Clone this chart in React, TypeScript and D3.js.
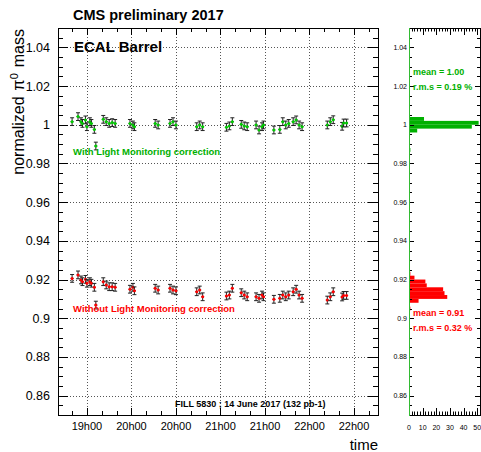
import React, { useRef, useEffect } from "react";
import * as d3 from "d3";

// measurement times (UTC) shared by both series
const times = [
  "19:20", "19:24", "19:26", "19:27", "19:29", "19:30", "19:32", "19:33", "19:35", "19:36",
  "19:41", "19:43", "19:45", "19:47", "19:49", "19:59", "20:01", "20:02", "20:16", "20:18",
  "20:26", "20:28", "20:30", "20:44", "20:46", "20:48", "21:04", "21:06", "21:08", "21:14",
  "21:16", "21:18", "21:24", "21:26", "21:28", "21:29", "21:36", "21:40", "21:42", "21:44",
  "21:46", "21:49", "21:51", "21:53", "21:55", "22:12", "22:14", "22:16", "22:22", "22:23",
  "22:25",
];

// normalized pi0 mass, with light monitoring correction
const massWithLM = [
  1.0016, 1.0042, 1.0016, 1.0007, 1.0025, 0.999, 1.0016, 1.0007, 0.9976, 0.989,
  1.0028, 1.0016, 1.0007, 1.0011, 1.0007, 1.0007, 0.9999, 0.999, 1.0007, 0.9999,
  1.0007, 1.0016, 0.9999, 0.999, 0.9999, 0.999, 0.9987, 0.9994, 1.0016, 1.0002,
  0.9994, 0.999, 0.9999, 0.9973, 0.999, 0.9999, 0.9973, 0.9976, 1.0016, 0.9999,
  1.0007, 1.0016, 1.0025, 0.9999, 0.999, 0.9999, 1.0016, 1.0026, 0.9992, 1.0009,
  1.0009,
];

// normalized pi0 mass, without light monitoring correction
const massWithoutLM = [
  0.9206, 0.9224, 0.9198, 0.9189, 0.9201, 0.9181, 0.9189, 0.9181, 0.916, 0.9068,
  0.9189, 0.9172, 0.9163, 0.9163, 0.916, 0.915, 0.916, 0.9142, 0.9155, 0.9146,
  0.9155, 0.9146, 0.9142, 0.9137, 0.9146, 0.9111, 0.9115, 0.912, 0.9155, 0.9132,
  0.912, 0.9111, 0.9111, 0.9103, 0.912, 0.9111, 0.9098, 0.9103, 0.912, 0.9111,
  0.912, 0.9137, 0.915, 0.912, 0.9103, 0.9094, 0.9111, 0.9137, 0.911, 0.9118,
  0.9118,
];

// projections (lower bin edge, entries)
const histBinsWithLM = [0.986, 0.996, 0.998, 1.0, 1.002];
const histCountsWithLM = [1, 6, 46, 51, 11];
const histBinsWithoutLM = [0.904, 0.908, 0.91, 0.912, 0.914, 0.916, 0.918, 0.92, 0.922];
const histCountsWithoutLM = [1, 7, 28, 26, 25, 13, 12, 4, 1];
const binWidth = 0.002;

const timeDomain = ["19:10:30", "22:46:10"];
const massDomain = [0.85, 1.05];
const countDomain = [0, 52];
const countTicks = [0, 10, 20, 30, 40, 50];
const massErr = 0.002;

const W = 481;
const H = 452;
const GREEN = "#00b000";
const RED = "#ff0000";
const FONT = "'Liberation Sans', Arial, Helvetica, sans-serif";

const App = () => {
  const ref = useRef<SVGSVGElement>(null);

  useEffect(() => {
    const svg = d3.select(ref.current);
    svg.selectAll("*").remove();

    const parse = d3.utcParse("%H:%M:%S");
    const pt = (s: string) => parse(s.length === 5 ? s + ":00" : s) as Date;
    const c = (v: number) => Math.round(v) + 0.5;

    const L = 58, R = 378, T = 28, B = 415;
    const x = d3.scaleUtc().domain(timeDomain.map(pt)).range([L, R]);
    const y = d3.scaleLinear().domain(massDomain).range([B, T]);
    const xh = d3.scaleLinear().domain(countDomain).range([409, 480]);

    svg.append("rect").attr("width", W).attr("height", H).attr("fill", "#fff");

    const majorT = x.ticks(d3.utcMinute.every(30) as any);
    const minorT = x.ticks(d3.utcMinute.every(10) as any);
    const yMinor = d3.range(170, 211).map((i) => i * 0.005);
    const yMajor = d3.range(43, 53).map((i) => i * 0.02);

    // grid
    const grid = svg
      .append("g")
      .attr("stroke", "#555")
      .attr("stroke-width", 1)
      .attr("stroke-dasharray", "1,2");
    majorT.forEach((t) =>
      grid.append("line").attr("x1", c(x(t))).attr("x2", c(x(t))).attr("y1", T).attr("y2", B)
    );
    yMajor.forEach((v) =>
      grid.append("line").attr("x1", L).attr("x2", R).attr("y1", c(y(v))).attr("y2", c(y(v)))
    );

    // frame + ticks of main pad
    const ax = svg.append("g").attr("stroke", "#000").attr("stroke-width", 1).attr("fill", "none");
    ax.append("rect").attr("x", L + 0.5).attr("y", T + 0.5).attr("width", R - L).attr("height", B - T);
    yMinor.forEach((v, i) => {
      const len = i % 4 === 2 ? 10 : 5;
      const yy = c(y(v));
      ax.append("line").attr("x1", L).attr("x2", L + len).attr("y1", yy).attr("y2", yy);
      ax.append("line").attr("x1", R).attr("x2", R - len).attr("y1", yy).attr("y2", yy);
    });
    minorT.forEach((t) => {
      const major = t.getUTCMinutes() % 30 === 0;
      const len = major ? 7 : 4;
      const xx = c(x(t));
      ax.append("line").attr("x1", xx).attr("x2", xx).attr("y1", B).attr("y2", B - len);
      ax.append("line").attr("x1", xx).attr("x2", xx).attr("y1", T).attr("y2", T + len);
    });

    // axis labels
    const fmtY = (v: number) => String(+v.toFixed(2));
    yMajor.forEach((v) =>
      svg
        .append("text")
        .attr("x", 50)
        .attr("y", y(v))
        .attr("dy", "0.36em")
        .attr("text-anchor", "end")
        .attr("font-family", FONT)
        .attr("font-size", 12.5)
        .text(fmtY(v))
    );
    const fmtT = d3.utcFormat("%Hh00");
    majorT.forEach((t) =>
      svg
        .append("text")
        .attr("x", x(t))
        .attr("y", 430)
        .attr("text-anchor", "middle")
        .attr("font-family", FONT)
        .attr("font-size", 11)
        .text(fmtT(t))
    );

    // titles
    svg
      .append("text")
      .attr("x", R)
      .attr("y", 450)
      .attr("text-anchor", "end")
      .attr("font-family", FONT)
      .attr("font-size", 15)
      .text("time");
    const yt = svg
      .append("text")
      .attr("transform", `translate(24,${T + 1}) rotate(-90)`)
      .attr("text-anchor", "end")
      .attr("font-family", FONT)
      .attr("font-size", 16);
    yt.append("tspan").text("normalized");
    yt.append("tspan").attr("dx", 6).text("π");
    yt.append("tspan").attr("dy", -6).attr("font-size", 11).text("0");
    yt.append("tspan").attr("dy", 6).attr("dx", 6).text("mass");

    svg
      .append("text")
      .attr("x", 73)
      .attr("y", 20)
      .attr("font-family", FONT)
      .attr("font-weight", "bold")
      .attr("font-size", 14.5)
      .text("CMS preliminary 2017");
    svg
      .append("text")
      .attr("x", 74)
      .attr("y", 52)
      .attr("font-family", FONT)
      .attr("font-weight", "bold")
      .attr("font-size", 15)
      .text("ECAL Barrel");

    // data points
    const pts = svg.append("g");
    const drawSeries = (vals: number[], col: string) => {
      vals.forEach((v, i) => {
        const px = x(pt(times[i]));
        const y0 = y(v - massErr);
        const y1 = y(v + massErr);
        const g = pts.append("g").attr("stroke", "#222").attr("stroke-width", 1);
        g.append("line").attr("x1", px).attr("x2", px).attr("y1", y0).attr("y2", y1);
        g.append("line").attr("x1", px - 2).attr("x2", px + 2).attr("y1", y0).attr("y2", y0);
        g.append("line").attr("x1", px - 2).attr("x2", px + 2).attr("y1", y1).attr("y2", y1);
        g.append("line").attr("x1", px - 1.5).attr("x2", px + 1.5).attr("y1", y(v)).attr("y2", y(v));
        pts.append("circle").attr("cx", px).attr("cy", y(v)).attr("r", 1.5).attr("fill", col);
      });
    };
    drawSeries(massWithLM, "#00cc00");
    drawSeries(massWithoutLM, RED);

    svg
      .append("text")
      .attr("x", 73)
      .attr("y", 155)
      .attr("font-family", FONT)
      .attr("font-weight", "bold")
      .attr("font-size", 9.5)
      .attr("fill", GREEN)
      .text("With Light Monitoring correction");
    svg
      .append("text")
      .attr("x", 73)
      .attr("y", 312)
      .attr("font-family", FONT)
      .attr("font-weight", "bold")
      .attr("font-size", 9.5)
      .attr("fill", RED)
      .text("Without Light Monitoring correction");
    svg
      .append("text")
      .attr("x", 175)
      .attr("y", 407)
      .attr("font-family", FONT)
      .attr("font-weight", "bold")
      .attr("font-size", 9)
      .text("FILL 5830 ; 14 June 2017 (132 pb-1)");

    // side pad: projections
    const hist = (bins: number[], counts: number[], col: string) =>
      bins.forEach((lo, i) =>
        svg
          .append("rect")
          .attr("x", xh(0))
          .attr("y", y(lo + binWidth))
          .attr("width", xh(counts[i]) - xh(0))
          .attr("height", y(lo) - y(lo + binWidth))
          .attr("fill", col)
      );
    hist(histBinsWithLM, histCountsWithLM, GREEN);
    hist(histBinsWithoutLM, histCountsWithoutLM, RED);

    const hx0 = 409, hx1 = 480;
    const sp = svg.append("g").attr("stroke", "#000").attr("stroke-width", 1);
    sp.append("line").attr("x1", hx0).attr("x2", hx1 + 1).attr("y1", T + 0.5).attr("y2", T + 0.5);
    sp.append("line").attr("x1", hx0).attr("x2", hx1 + 1).attr("y1", B + 0.5).attr("y2", B + 0.5);
    sp.append("line").attr("x1", hx1 + 0.5).attr("x2", hx1 + 0.5).attr("y1", T).attr("y2", B);
    yMinor.forEach((v, i) => {
      const len = i % 4 === 2 ? 5 : 3;
      const yy = c(y(v));
      sp.append("line").attr("x1", hx0).attr("x2", hx0 + len).attr("y1", yy).attr("y2", yy);
      sp.append("line").attr("x1", hx1).attr("x2", hx1 - len).attr("y1", yy).attr("y2", yy);
    });
    d3.range(0, 53, 2).forEach((k) => {
      const len = k % 10 === 0 ? 7 : 3.5;
      const xx = c(xh(k));
      sp.append("line").attr("x1", xx).attr("x2", xx).attr("y1", B).attr("y2", B - len);
      sp.append("line").attr("x1", xx).attr("x2", xx).attr("y1", T).attr("y2", T + len);
    });
    svg
      .append("line")
      .attr("x1", hx0 + 0.5)
      .attr("x2", hx0 + 0.5)
      .attr("y1", T)
      .attr("y2", B + 1)
      .attr("stroke", "#33bb33")
      .attr("stroke-width", 1);

    yMajor.forEach((v) =>
      svg
        .append("text")
        .attr("x", 407)
        .attr("y", y(v))
        .attr("dy", "0.36em")
        .attr("text-anchor", "end")
        .attr("font-family", FONT)
        .attr("font-size", 7)
        .text(fmtY(v))
    );
    countTicks.forEach((k) =>
      svg
        .append("text")
        .attr("x", xh(k))
        .attr("y", 429.5)
        .attr("text-anchor", "middle")
        .attr("font-family", FONT)
        .attr("font-size", 7)
        .text(String(k))
    );

    const stats = (lines: string[], y0: number, col: string) =>
      lines.forEach((s, i) =>
        svg
          .append("text")
          .attr("x", 413)
          .attr("y", y0 + i * 15)
          .attr("font-family", FONT)
          .attr("font-weight", "bold")
          .attr("font-size", 9)
          .attr("fill", col)
          .text(s)
      );
    stats(["mean = 1.00", "r.m.s = 0.19 %"], 75, GREEN);
    stats(["mean = 0.91", "r.m.s = 0.32 %"], 316, RED);

    return () => {
      d3.select(ref.current).selectAll("*").remove();
    };
  }, []);

  return (
    <svg
      ref={ref}
      width={W}
      height={H}
      style={{ position: "absolute", left: 0, top: 0, display: "block" }}
    ></svg>
  );
};

export default App;
